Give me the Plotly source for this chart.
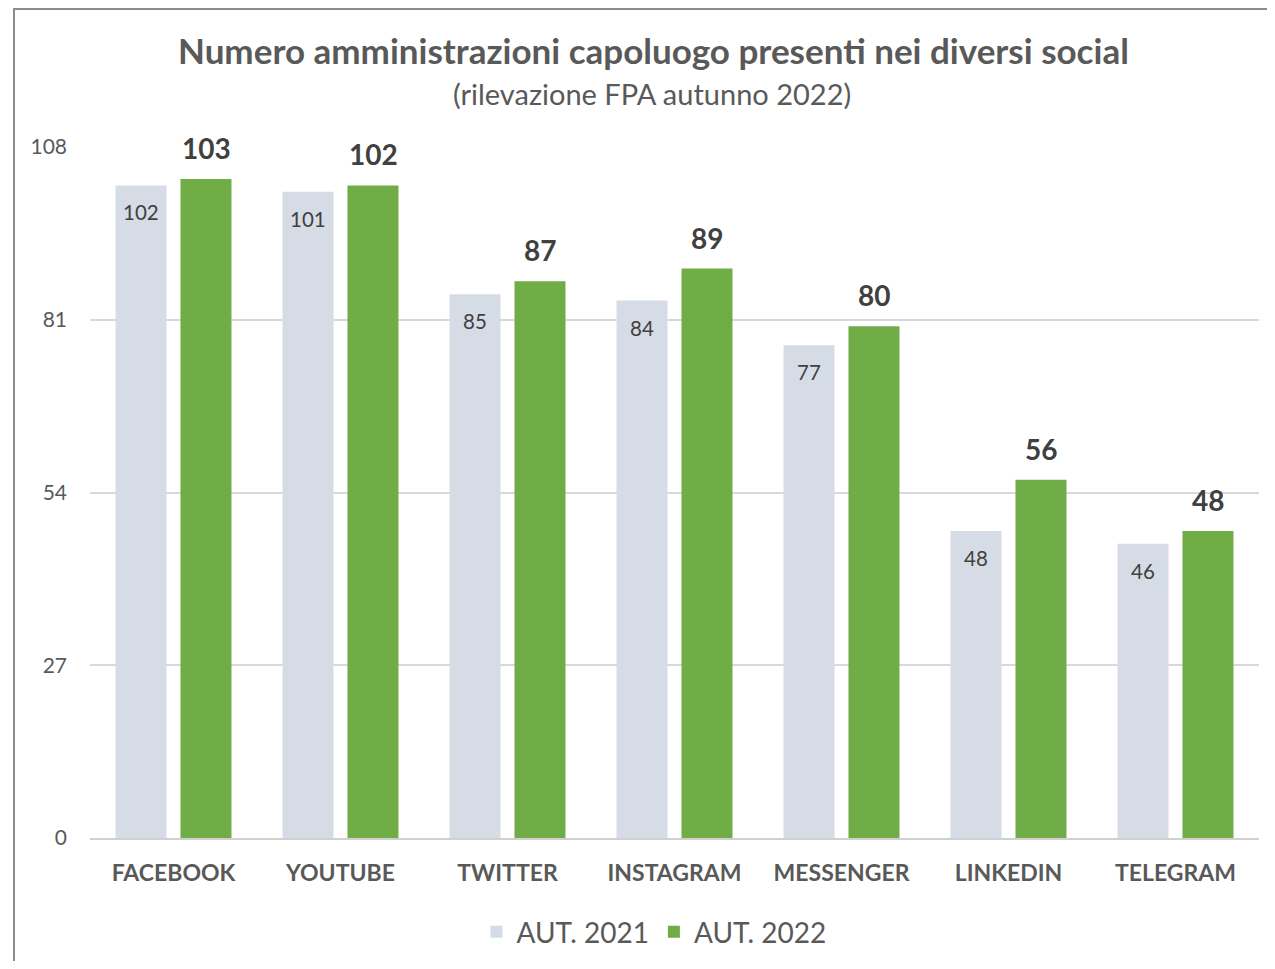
import plotly.graph_objects as go

categories = ["FACEBOOK", "YOUTUBE", "TWITTER", "INSTAGRAM", "MESSENGER", "LINKEDIN", "TELEGRAM"]
aut_2021 = [102, 101, 85, 84, 77, 48, 46]
aut_2022 = [103, 102, 87, 89, 80, 56, 48]
y_ticks = [0, 27, 54, 81, 108]

GREY = "#d6dce5"
GREEN = "#70ad47"
FONT = "Lato"
TXT = "#595959"

OFF = 8  # page body margin
W, H = 1275 - 2 * OFF, 969 - 2 * OFF
PL, PR, PT, PB = 90, 1259, 147, 838  # plot area in reference pixels
L = PL - OFF
R = W - (PR - OFF)
T = PT - OFF
B = H - (PB - OFF)
PW = PR - PL
PH = PB - PT


def px(x):
    return (x - PL) / PW


def py(y):
    return (PB - y) / PH


fig = go.Figure()
fig.add_trace(go.Bar(name="AUT. 2021", x=categories, y=aut_2021, marker_color=GREY,
                     marker_line_width=0))
fig.add_trace(go.Bar(name="AUT. 2022", x=categories, y=aut_2022, marker_color=GREEN,
                     marker_line_width=0))

annotations = []
for i, (a, b) in enumerate(zip(aut_2021, aut_2022)):
    annotations.append(dict(x=i, y=a, xref="x", yref="y", text=str(a), showarrow=False,
                            xanchor="center", yanchor="middle",
                            xshift=-32.5, yshift=-27, font=dict(family=FONT, size=20.5, color="#404040")))
    annotations.append(dict(x=i, y=b, xref="x", yref="y", text=f"<b>{b}</b>", showarrow=False,
                            xanchor="center", yanchor="middle",
                            xshift=32.5, yshift=31, font=dict(family=FONT, size=28, color="#404040")))

annotations.append(dict(x=px(653), y=py(50), xref="paper", yref="paper",
                        xanchor="center", yanchor="middle",
                        text="<b>Numero amministrazioni capoluogo presenti nei diversi social</b>",
                        showarrow=False, font=dict(family=FONT, size=35, color=TXT)))
annotations.append(dict(x=px(652), y=py(93), xref="paper", yref="paper",
                        xanchor="center", yanchor="middle",
                        text="(rilevazione FPA autunno 2022)",
                        showarrow=False, font=dict(family=FONT, size=29, color=TXT)))

fig.update_layout(
    width=W, height=H,
    margin=dict(l=L, r=R, t=T, b=B, autoexpand=False),
    paper_bgcolor="white", plot_bgcolor="white",
    barmode="group", bargap=0.222, bargroupgap=0.215,
    font=dict(family=FONT, color=TXT),
    showlegend=True,
    legend=dict(orientation="h", x=px(654), xanchor="center",
                y=py(932), yanchor="middle",
                font=dict(family=FONT, size=28, color=TXT),
                itemwidth=30, traceorder="normal"),
    annotations=annotations,
    shapes=[dict(type="rect", xref="paper", yref="paper",
                 x0=px(14), x1=px(1300),
                 y0=py(1000), y1=py(9),
                 line=dict(color="#8c8c8c", width=2), fillcolor="rgba(0,0,0,0)", layer="below")],
    xaxis=dict(showgrid=False, showline=True, linecolor="#d0d0d0", linewidth=2,
               ticks="", ticklabelstandoff=13,
               tickfont=dict(family=FONT, size=23, color=TXT, weight="bold")),
    yaxis=dict(range=[0, 108], tickvals=y_ticks, showgrid=True, gridcolor="#d9d9d9", gridwidth=1.5,
               zeroline=False, showline=False, ticks="", ticklabelstandoff=22,
               tickfont=dict(family=FONT, size=21, color=TXT)),
)

fig.write_html("out.html")
